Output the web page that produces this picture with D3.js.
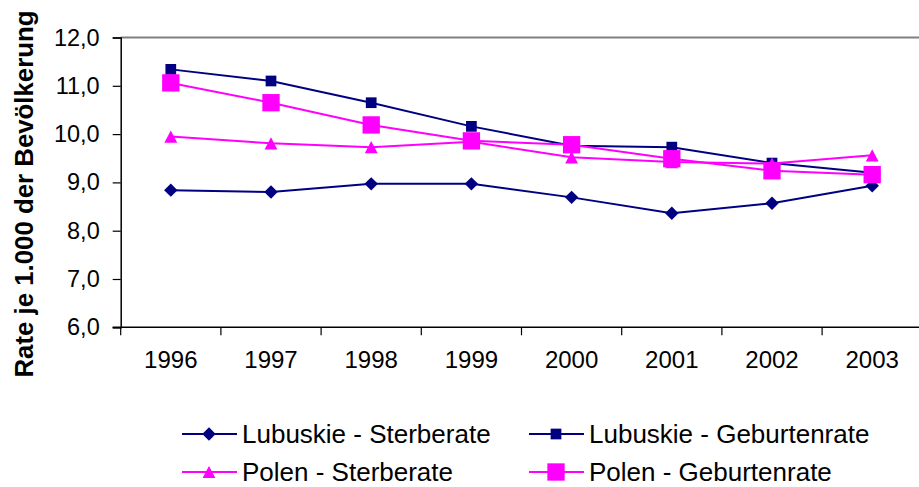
<!DOCTYPE html>
<html>
<head>
<meta charset="utf-8">
<script src="https://cdn.jsdelivr.net/npm/d3@7"></script>
<style>
  body { margin: 0; background: #fff; }
  svg { display: block; font-family: "Liberation Sans", Arial, sans-serif; }
</style>
</head>
<body>
<svg id="svg" width="919" height="487"></svg>
<script>
// data
const years = ["1996", "1997", "1998", "1999", "2000", "2001", "2002", "2003"];
const lubuskieSterberate = [8.84, 8.80, 8.97, 8.97, 8.69, 8.36, 8.57, 8.93];
const lubuskieGeburtenrate = [11.34, 11.10, 10.65, 10.16, 9.76, 9.73, 9.40, 9.20];
const polenSterberate = [9.95, 9.81, 9.73, 9.84, 9.52, 9.42, 9.39, 9.56];
const polenGeburtenrate = [11.06, 10.65, 10.19, 9.86, 9.78, 9.49, 9.24, 9.16];
const yTicks = [6, 7, 8, 9, 10, 11, 12];

const svg = d3.select("#svg");
const plotLeft = 120.7, plotTop = 37.5, plotBottom = 327.3, plotRight = 120.7 + 8 * 100.2;

const x = d3.scaleBand().domain(years).range([plotLeft, plotRight]).padding(0);
const y = d3.scaleLinear().domain([6, 12]).range([plotBottom, plotTop]);

// marker shapes (custom d3 symbol types, centred on the bounding box)
const diamond = { draw(c, s) { const r = Math.sqrt(s) / 2; c.moveTo(0, -r); c.lineTo(r, 0); c.lineTo(0, r); c.lineTo(-r, 0); c.closePath(); } };
const square = { draw(c, s) { const r = Math.sqrt(s) / 2; c.rect(-r, -r, 2 * r, 2 * r); } };
const triangle = { draw(c, s) { const r = Math.sqrt(s) / 2; c.moveTo(0, -r); c.lineTo(r * 1.05, r); c.lineTo(-r * 1.05, r); c.closePath(); } };

const series = [
  { name: "Lubuskie - Sterberate", values: lubuskieSterberate, color: "#000080", type: diamond, size: 180 },
  { name: "Lubuskie - Geburtenrate", values: lubuskieGeburtenrate, color: "#000080", type: square, size: 115 },
  { name: "Polen - Sterberate", values: polenSterberate, color: "#FF00FF", type: triangle, size: 150 },
  { name: "Polen - Geburtenrate", values: polenGeburtenrate, color: "#FF00FF", type: square, size: 300 }
];

// plot frame (grey top edge)
svg.append("line")
  .attr("x1", plotLeft).attr("x2", 919).attr("y1", plotTop).attr("y2", plotTop)
  .attr("stroke", "#808080").attr("stroke-width", 2);

// y axis
const yAxis = svg.append("g").attr("transform", `translate(${plotLeft},0)`)
  .call(d3.axisLeft(y).tickValues(yTicks).tickSize(8).tickPadding(13)
    .tickFormat(d => d3.format(".1f")(d).replace(".", ",")));
yAxis.select(".domain").attr("stroke", "#000").attr("stroke-width", 1.5);
yAxis.selectAll(".tick line").attr("stroke", "#000").attr("stroke-width", 1.2);
yAxis.selectAll("text").attr("font-size", 23.5).attr("fill", "#000")
  .attr("font-family", "Liberation Sans, Arial, sans-serif");

// x axis: ticks at the band edges
const xAxis = svg.append("g").attr("transform", `translate(0,${plotBottom})`);
xAxis.append("line").attr("x1", plotLeft - 8).attr("x2", 919).attr("y1", 0).attr("y2", 0)
  .attr("stroke", "#000").attr("stroke-width", 1.5);
xAxis.selectAll("line.tk").data(years).join("line").attr("class", "tk")
  .attr("x1", d => x(d)).attr("x2", d => x(d)).attr("y1", 0).attr("y2", 8)
  .attr("stroke", "#000").attr("stroke-width", 1.2);
xAxis.selectAll("text").data(years).join("text")
  .attr("x", d => x(d) + x.bandwidth() / 2).attr("y", 41)
  .attr("text-anchor", "middle").attr("font-size", 24).text(d => d);

// y title
svg.append("text")
  .attr("transform", "translate(33,194) rotate(-90)")
  .attr("text-anchor", "middle").attr("font-size", 25.8).attr("font-weight", "bold")
  .text("Rate je 1.000 der Bevölkerung");

// series
const line = d3.line().x((d, i) => x(years[i]) + x.bandwidth() / 2).y(d => y(d));
series.forEach(s => {
  const g = svg.append("g");
  g.append("path").attr("d", line(s.values)).attr("fill", "none")
    .attr("stroke", s.color).attr("stroke-width", 2);
  g.selectAll("path.m").data(s.values).join("path").attr("class", "m")
    .attr("transform", (d, i) => `translate(${x(years[i]) + x.bandwidth() / 2},${y(d)})`)
    .attr("d", d3.symbol().type(s.type).size(s.size)())
    .attr("fill", s.color);
});

// legend
const legendPos = [[182, 434], [529, 434], [182, 472], [529, 472]];
series.forEach((s, i) => {
  const [lx, ly] = legendPos[i];
  const g = svg.append("g").attr("transform", `translate(${lx},${ly})`);
  g.append("line").attr("x1", 0).attr("x2", 55).attr("stroke", s.color).attr("stroke-width", 2);
  g.append("path").attr("transform", "translate(27,0)")
    .attr("d", d3.symbol().type(s.type).size(s.size)()).attr("fill", s.color);
  g.append("text").attr("x", 60).attr("y", 9).attr("font-size", 26).text(s.name);
});
</script>
</body>
</html>
